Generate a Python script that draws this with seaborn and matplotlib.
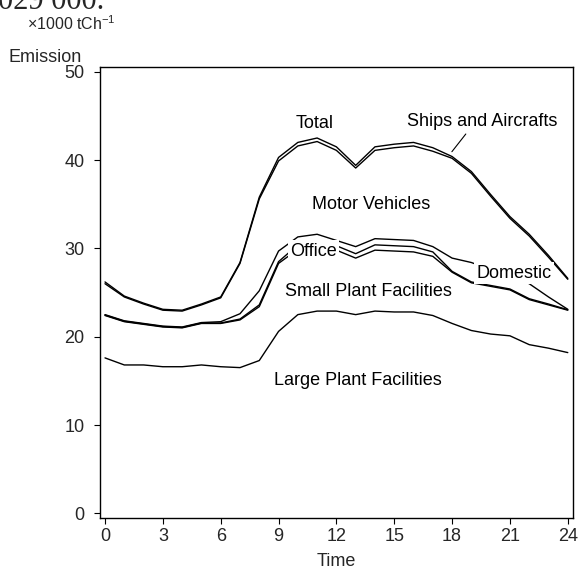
import numpy as np
import pandas as pd
import matplotlib
matplotlib.use("Agg")
import matplotlib.pyplot as plt
import seaborn as sns

# ---- data (cumulative line levels, x1000 t C h^-1) ----
hours = list(range(0, 25))
large_plant = [17.6, 16.8, 16.8, 16.6, 16.6, 16.8, 16.6, 16.5, 17.3, 20.6, 22.5, 22.9, 22.9,
               22.5, 22.9, 22.8, 22.8, 22.4, 21.5, 20.7, 20.3, 20.1, 19.1, 18.7, 18.2]
small_plant = [22.4, 21.7, 21.4, 21.1, 21.0, 21.5, 21.5, 21.9, 23.4, 28.3, 29.9, 30.2, 29.8,
               28.9, 29.8, 29.7, 29.6, 29.1, 27.3, 26.1, 25.7, 25.3, 24.2, 23.6, 23.0]
office = [22.45, 21.75, 21.45, 21.15, 21.05, 21.55, 21.55, 22.0, 23.6, 28.5, 30.4, 30.7, 30.3,
          29.4, 30.4, 30.3, 30.2, 29.6, 27.4, 26.2, 25.8, 25.4, 24.3, 23.7, 23.05]
domestic = [22.5, 21.8, 21.5, 21.2, 21.1, 21.6, 21.7, 22.6, 25.2, 29.7, 31.3, 31.6, 30.9,
            30.2, 31.1, 31.0, 30.9, 30.2, 28.9, 28.4, 27.6, 26.9, 26.0, 24.5, 23.1]
motor_vehicles = [26.0, 24.5, 23.7, 23.0, 22.9, 23.6, 24.4, 28.3, 35.6, 39.9, 41.6, 42.1, 41.1,
                  39.1, 41.1, 41.4, 41.6, 41.0, 40.2, 38.5, 35.9, 33.4, 31.4, 29.0, 26.5]
total = [26.2, 24.6, 23.8, 23.1, 23.0, 23.7, 24.5, 28.4, 35.8, 40.3, 42.0, 42.5, 41.5,
         39.4, 41.5, 41.8, 42.0, 41.4, 40.4, 38.7, 36.1, 33.6, 31.6, 29.2, 26.6]

series_names = ["Large Plant Facilities", "Small Plant Facilities", "Office", "Domestic",
                "Motor Vehicles", "Total"]
series_values = [large_plant, small_plant, office, domestic, motor_vehicles, total]

x_ticks = [0, 3, 6, 9, 12, 15, 18, 21, 24]
y_ticks = [0, 10, 20, 30, 40, 50]

# in-plot labels: (text, hour, value)
labels = [("Total", 10.85, 44.1), ("Ships and Aircrafts", 19.55, 44.4),
          ("Motor Vehicles", 13.8, 35.0), ("Office", 10.8, 29.7),
          ("Small Plant Facilities", 13.65, 25.1), ("Domestic", 21.2, 27.2),
          ("Large Plant Facilities", 13.1, 15.0)]

df = pd.DataFrame({"hour": np.tile(hours, len(series_names)),
                   "series": np.repeat(series_names, len(hours)),
                   "value": np.concatenate(series_values)})

sns.set_theme(style="ticks")
plt.rcParams["font.family"] = ["Liberation Sans", "DejaVu Sans"]
plt.rcParams["mathtext.fontset"] = "custom"
plt.rcParams["mathtext.rm"] = "Liberation Sans"
plt.rcParams["mathtext.it"] = "Liberation Sans:italic"

fig = plt.figure(figsize=(5.81, 5.75), dpi=100)
ax = fig.add_axes([100 / 581, 1 - 518 / 575, 473 / 581, 451 / 575])

for name in series_names:
    sns.lineplot(data=df[df["series"] == name], x="hour", y="value", ax=ax,
                 color="black", linewidth=1.0, legend=False, zorder=2)

for txt, hx, vy in labels:
    ax.text(hx, vy, txt, fontsize=13, ha="center", va="center", color="black", zorder=5,
            bbox=dict(boxstyle="square,pad=0.12", fc="white", ec="none"))

# leader line for ships and aircrafts
ax.annotate("", xy=(17.9, 40.7), xytext=(18.8, 43.2),
            arrowprops=dict(arrowstyle="-", color="black", lw=0.8), zorder=4)

ax.set_xlim(-0.26, 24.27)
ax.set_ylim(-0.53, 50.54)
ax.set_xticks(x_ticks)
ax.set_yticks(y_ticks)
ax.set_xticklabels([str(t) for t in x_ticks], fontsize=13)
ax.set_yticklabels([str(t) for t in y_ticks], fontsize=13)
ax.tick_params(axis="both", direction="out", length=4, width=0.8, color="black")
ax.tick_params(axis="x", pad=3)
ax.tick_params(axis="y", pad=7)
for sp in ax.spines.values():
    sp.set_visible(True)
    sp.set_color("black")
    sp.set_linewidth(1.0)
ax.set_xlabel("Time", fontsize=13, labelpad=6)
ax.set_ylabel("")

fig.text(45 / 581, 1 - 57 / 575, "Emission", fontsize=13, ha="center", va="center")
fig.text(27 / 581, 1 - 23.5 / 575, r"×1000 tCh$^{-1}$", fontsize=11.5, ha="left", va="center")
fig.text(-2 / 581, 1 - 9 / 575, "029 000.", fontsize=22, family="Liberation Serif",
         ha="left", va="baseline")

fig.savefig("out.png", dpi=100, facecolor="white")
